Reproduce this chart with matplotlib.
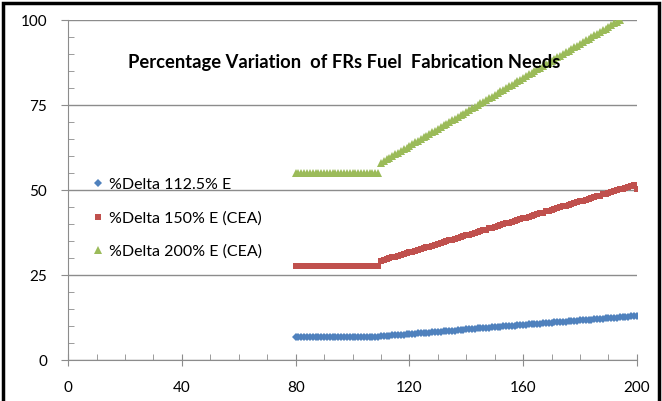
import matplotlib.pyplot as plt
from matplotlib.patches import Rectangle
from matplotlib.ticker import MultipleLocator

plt.rcParams['font.family'] = ['Lato', 'DejaVu Sans']

# series values, one per year step starting at 80
delta_112 = [6.9] * 30 + [
    7.0, 7.1, 7.1, 7.2, 7.3, 7.3, 7.4, 7.5, 7.5, 7.6, 7.7, 7.7,
    7.8, 7.9, 7.9, 8.0, 8.1, 8.1, 8.2, 8.3, 8.3, 8.4, 8.5, 8.5,
    8.6, 8.7, 8.7, 8.8, 8.9, 8.9, 9.0, 9.1, 9.1, 9.2, 9.3, 9.3,
    9.4, 9.5, 9.5, 9.6, 9.7, 9.7, 9.8, 9.9, 9.9, 10.0, 10.1, 10.1,
    10.2, 10.3, 10.3, 10.4, 10.5, 10.5, 10.6, 10.7, 10.7, 10.8, 10.9, 10.9,
    11.0, 11.1, 11.1, 11.2, 11.3, 11.3, 11.4, 11.5, 11.5, 11.6, 11.7, 11.7,
    11.8, 11.9, 11.9, 12.0, 12.1, 12.1, 12.2, 12.3, 12.3, 12.4, 12.5, 12.5,
    12.6, 12.7, 12.7, 12.8, 12.9, 12.9, 13.0]

delta_150 = [27.6] * 30 + [
    29.2, 29.4, 29.7, 29.9, 30.2, 30.4, 30.7, 30.9, 31.2, 31.4,
    31.7, 31.9, 32.2, 32.4, 32.7, 32.9, 33.2, 33.4, 33.7, 33.9,
    34.2, 34.4, 34.7, 34.9, 35.2, 35.4, 35.7, 35.9, 36.2, 36.4,
    36.7, 36.9, 37.2, 37.4, 37.7, 37.9, 38.2, 38.4, 38.7, 38.9,
    39.2, 39.4, 39.7, 39.9, 40.2, 40.4, 40.7, 40.9, 41.2, 41.4,
    41.7, 41.9, 42.2, 42.4, 42.7, 42.9, 43.2, 43.4, 43.7, 43.9,
    44.2, 44.4, 44.7, 44.9, 45.2, 45.4, 45.7, 45.9, 46.2, 46.4,
    46.7, 46.9, 47.2, 47.4, 47.7, 47.9, 48.2, 48.4, 48.7, 48.9,
    49.2, 49.4, 49.7, 49.9, 50.2, 50.4, 50.7, 50.9, 51.2, 51.4,
    50.2]

delta_200 = [55.0] * 30 + [
    58.0, 58.5, 59.0, 59.5, 60.0, 60.5, 61.0, 61.5, 62.0, 62.5,
    63.0, 63.5, 64.0, 64.5, 65.0, 65.5, 66.0, 66.5, 67.0, 67.5,
    68.0, 68.5, 69.0, 69.5, 70.0, 70.5, 71.0, 71.5, 72.0, 72.5,
    73.0, 73.5, 74.0, 74.5, 75.0, 75.5, 76.0, 76.5, 77.0, 77.5,
    78.0, 78.5, 79.0, 79.5, 80.0, 80.5, 81.0, 81.5, 82.0, 82.5,
    83.0, 83.5, 84.0, 84.5, 85.0, 85.5, 86.0, 86.5, 87.0, 87.5,
    88.0, 88.5, 89.0, 89.5, 90.0, 90.5, 91.0, 91.5, 92.0, 92.5,
    93.0, 93.5, 94.0, 94.5, 95.0, 95.5, 96.0, 96.5, 97.0, 97.5,
    98.0, 98.5, 99.0, 99.5, 100.0]

x_start = 80
labels = ['%Delta 112.5% E', '%Delta 150% E (CEA)', '%Delta 200% E (CEA)']

fig = plt.figure(figsize=(6.62, 4.01), dpi=100)
ax = fig.add_axes([0.103, 0.102, 0.859, 0.848])

x1 = list(range(x_start, x_start + len(delta_112)))
x2 = list(range(x_start, x_start + len(delta_150)))
x3 = list(range(x_start, x_start + len(delta_200)))

ax.plot(x1, delta_112, 'D', color='#4F81BD', ms=4.0, mew=0, label=labels[0])
ax.plot(x2, delta_150, 's', color='#C0504D', ms=5.0, mew=0, label=labels[1])
ax.plot(x3, delta_200, '^', color='#9BBB59', ms=5.2, mew=0, label=labels[2])

ax.set_xlim(0, 200)
ax.set_ylim(0, 100)
ax.xaxis.set_major_locator(MultipleLocator(40))
ax.xaxis.set_minor_locator(MultipleLocator(10))
ax.yaxis.set_major_locator(MultipleLocator(25))
ax.yaxis.set_minor_locator(MultipleLocator(5))

ax.grid(axis='y', which='major', color='#8c8c8c', lw=1)
ax.set_axisbelow(True)
for s in ['top', 'right']:
    ax.spines[s].set_visible(False)
for s in ['left', 'bottom']:
    ax.spines[s].set_color('#8c8c8c')
ax.tick_params(which='major', direction='inout', length=8, color='#8c8c8c',
               labelsize=11, pad=11)
ax.tick_params(which='minor', direction='in', length=4, color='#8c8c8c')
ax.tick_params(axis='y', which='major', direction='out', length=5, pad=10)

ax.text(0.485, 0.876, 'Percentage Variation  of FRs Fuel  Fabrication Needs',
        transform=ax.transAxes, ha='center', va='center',
        fontsize=13.2, fontweight='bold')

ax.legend(loc='center left', bbox_to_anchor=(0.041, 0.417), frameon=False,
          handlelength=0.8, handletextpad=0.3, borderpad=0, borderaxespad=0,
          labelspacing=1.2, numpoints=1, fontsize=11.5)

# outer frame of the picture
fig.patches.append(Rectangle((0.005, -0.02), 0.99, 1.013, transform=fig.transFigure,
                             fill=False, edgecolor='black', lw=2.5))

fig.savefig('out.png', dpi=100)
